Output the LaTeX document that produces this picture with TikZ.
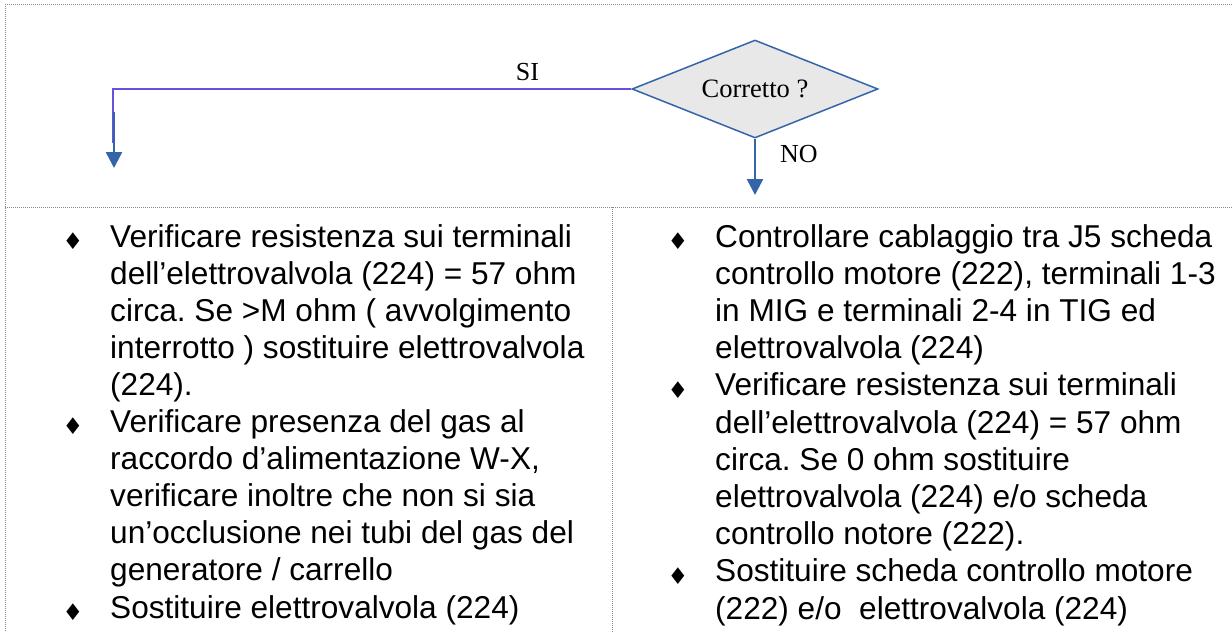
\documentclass[tikz,border=0pt]{standalone}
\usepackage{fontspec}
\setmainfont{Liberation Sans}
\newfontfamily\serifA{Liberation Serif}
\newfontfamily\symA{DejaVu Sans}
\usetikzlibrary{shapes.geometric,arrows.meta}
\definecolor{bluA}{HTML}{3465A8}
\definecolor{purA}{HTML}{6A50E0}
\definecolor{grayF}{HTML}{E8E8E8}
\definecolor{bordA}{HTML}{8A8A8A}
\frenchspacing
\begin{document}
\begin{tikzpicture}[x=1pt,y=-1pt,
  dec/.style={diamond, draw=bluA, fill=grayF, line width=1.5pt,
    minimum width=246pt, minimum height=98pt, aspect=2.5, inner sep=0pt,
    font=\serifA\fontsize{26.5}{30}\selectfont},
  lab/.style={inner sep=0pt, font=\serifA\fontsize{26}{30}\selectfont},
  txt/.style={inner sep=0pt, anchor=base west, font=\fontsize{31.6}{37}\selectfont\frenchspacing},
  bul/.style={inner sep=0pt, font=\symA\fontsize{23}{24}\selectfont},
  frame/.style={draw=bordA, line width=1pt, dash pattern=on 1pt off 1pt},
  arr/.style={draw=bluA, line width=2.5pt, -{Triangle[width=16pt,length=16pt]}}
]
\useasboundingbox (0,0) rectangle (1232,632);
\fill[white] (0,0) rectangle (1232,632);
% frame lines
\draw[frame] (5,4) -- (1232,4);
\draw[frame] (5,4) -- (5,632);
\draw[frame] (5,207) -- (1232,207);
\draw[frame] (612,207) -- (612,632);
% decision
\node[dec] (d) at (755,89) {Corretto ?};
\node[lab, anchor=base] (si) at (527.5,80) {SI};
\node[lab, anchor=base west] (no) at (780,162) {NO};
\coordinate (sik) at (113,143);
\coordinate (sia) at (114,112);
\coordinate (sib) at (114,168);
\coordinate (noe) at (755,195);
\draw[purA, line width=1.5pt] (d.west) -| (sik);
\draw[arr] (sia) -- (sib);
\draw[arr] (d.south) -- (noe);
% left column
\foreach \t [count=\i] in {
  {Verificare resistenza sui terminali},
  {dell’elettrovalvola (224) = 57 ohm},
  {circa. Se >M ohm ( avvolgimento},
  {interrotto ) sostituire elettrovalvola},
  {(224).},
  {Verificare presenza del gas al},
  {raccordo d’alimentazione W-X,},
  {verificare inoltre che non si sia},
  {un’occlusione nei tubi del gas del},
  {generatore / carrello},
  {Sostituire elettrovalvola (224)}}
  \node[txt] (L\i) at (110,{247+37.1*(\i-1)}) {\t};
\foreach \k in {1,6,11}
  \node[bul] (bl\k) at (73,{241+37.1*(\k-1)}) {♦};
% right column
\foreach \t [count=\i] in {
  {Controllare cablaggio tra J5 scheda},
  {controllo motore (222), terminali 1-3},
  {in MIG e terminali 2-4 in TIG ed},
  {elettrovalvola (224)},
  {Verificare resistenza sui terminali},
  {dell’elettrovalvola (224) = 57 ohm},
  {circa. Se 0 ohm sostituire},
  {elettrovalvola (224) e/o scheda},
  {controllo notore (222).},
  {Sostituire scheda controllo motore},
  {(222) e/o\ \ elettrovalvola (224)}}
  \node[txt] (R\i) at (715,{247+37.2*(\i-1)}) {\t};
\foreach \k in {1,5,10}
  \node[bul] (br\k) at (678,{241+37.2*(\k-1)}) {♦};
\end{tikzpicture}
\end{document}
